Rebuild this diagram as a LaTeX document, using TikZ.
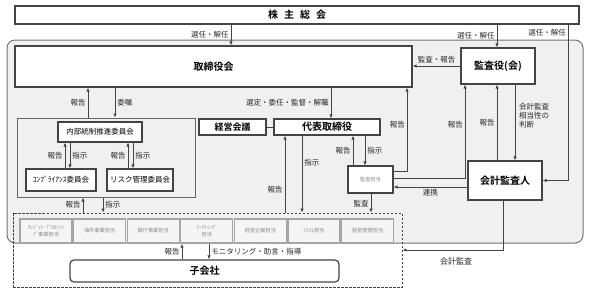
\documentclass[tikz,border=0pt]{standalone}
\usepackage{fontspec}
\setmainfont{Noto Sans CJK JP}[BoldFont={Noto Sans CJK JP Bold}]
\usetikzlibrary{arrows.meta, positioning, calc}
\definecolor{regionfill}{HTML}{F0F0F0}
\definecolor{edgegray}{HTML}{444444}
\definecolor{deptfill}{HTML}{F5F5F5}
\definecolor{depttext}{HTML}{8A8A8A}

\begin{document}
\begin{tikzpicture}[x=1pt, y=-1pt,
    >={Latex[length=4pt, width=3.4pt]},
    region/.style={draw=gray!90!black, line width=1pt, fill=regionfill, rounded corners=8pt, inner sep=0pt},
    bigbox/.style={draw=edgegray, line width=1.2pt, fill=white, inner sep=0pt, font=\fontsize{10}{12}\selectfont\bfseries},
    smallbox/.style={draw=edgegray, line width=1.1pt, fill=white, inner sep=0pt, font=\fontsize{7.5}{9}\selectfont},
    groupbox/.style={draw=gray!80!black, line width=1pt, inner sep=0pt},
    deptbox/.style={draw=gray!70, line width=1.3pt, fill=deptfill, inner sep=0pt, minimum width=52pt, minimum height=24pt, align=center, text=depttext, font=\fontsize{5.2}{6.5}\selectfont},
    dashbox/.style={draw=edgegray, line width=0.8pt, dash pattern=on 2.5pt off 1.5pt, inner sep=0pt},
    conn/.style={draw=edgegray, line width=0.9pt},
    lbl/.style={font=\fontsize{7.5}{9}\selectfont, inner sep=2pt, text=black!85},
]
\useasboundingbox (0,0) rectangle (589,293);

% Company region
\node[region, minimum width=576pt, minimum height=203pt] (company) at (295,141.5) {};

% Shareholders
\node[bigbox, minimum width=564pt, minimum height=18pt] (share) at (297,15) {株\hspace{6pt}主\hspace{6pt}総\hspace{6pt}会};

% Board and auditors
\node[bigbox, minimum width=397pt, minimum height=41pt] (board) at (213.5,66.5) {取締役会};
\node[bigbox, minimum width=74pt, minimum height=36pt] (auditors) at (498,66) {監査役(会)};
\node[bigbox, minimum width=74pt, minimum height=39pt] (accountant) at (505,180.5) {会計監査人};

% Executive side
\node[bigbox, minimum width=106pt, minimum height=16pt] (rep) at (327,127) {代表取締役};
\node[bigbox, minimum width=67pt, minimum height=16pt, font=\fontsize{9}{11}\selectfont\bfseries] (meeting) at (232.5,127) {経営会議};
\node[smallbox, minimum width=45pt, minimum height=27pt, text=depttext, font=\fontsize{5.2}{6.5}\selectfont] (auditoffice) at (370.5,179.5) {監査担当};

% Internal control group
\node[groupbox, minimum width=178pt, minimum height=79pt] (icgroup) at (106,157.5) {};
\node[smallbox, minimum width=84pt, minimum height=20pt] (iccommittee) at (100,132) {内部統制推進委員会};
\node[smallbox, minimum width=70pt, minimum height=22pt] (compliance) at (61,180) {ｺﾝﾌﾟﾗｲｱﾝｽ委員会};
\node[smallbox, minimum width=66pt, minimum height=22pt] (risk) at (140,180) {リスク管理委員会};

% Departments
\node[dashbox, minimum width=389pt, minimum height=74pt] (deptarea) at (207.5,250) {};
\foreach \dname [count=\i from 0] in {{ｸﾚｼﾞｯﾄ･ﾌﾟﾛｾｯｼﾝ\\ｸﾞ事業担当}, 海外事業担当, 銀行事業担当, {ﾏｰｹﾃｨﾝｸﾞ\\担当}, 経営企画担当, ｼｽﾃﾑ担当, 経営管理担当}
    \node[deptbox] (dept\i) at ({46+53.6*\i},231) {\dname};

% Subsidiaries
\node[bigbox, rounded corners=4pt, minimum width=269pt, minimum height=22pt] (subsidiary) at (204.5,271) {子会社};

% Shareholders -> board / auditors / accountant
\draw[conn, ->] (share.south -| 231,0) -- (board.north -| 231,0) node[lbl, midway, left] {選任・解任};
\draw[conn, ->] (share.south -| 497,0) -- (auditors.north -| 497,0) node[lbl, midway, left] {選任・解任};
\draw[conn, ->] (share.south -| 568,0) |- (accountant.east);
\node[lbl, left] at (568,33) {選任・解任};

% Auditors -> board
\draw[conn, ->] (auditors.west) -- (auditors.west -| board.east) node[lbl, midway, above] {監査・報告};

% Board <-> internal control
\draw[conn, ->] (icgroup.north -| 88,0) -- (board.south -| 88,0) node[lbl, midway, left] {報告};
\draw[conn, ->] (board.south -| 115,0) -- (icgroup.north -| 115,0) node[lbl, midway, right] {委嘱};
\draw[conn, ->] (compliance.north -| 65,0) -- (iccommittee.south -| 65,0) node[lbl, midway, left] {報告};
\draw[conn, ->] (iccommittee.south -| 70,0) -- (compliance.north -| 70,0) node[lbl, midway, right] {指示};
\draw[conn, ->] (risk.north -| 128,0) -- (iccommittee.south -| 128,0) node[lbl, midway, left] {報告};
\draw[conn, ->] (iccommittee.south -| 133,0) -- (risk.north -| 133,0) node[lbl, midway, right] {指示};
\draw[conn, ->] (deptarea.north -| 83,0) -- (icgroup.south -| 83,0) node[lbl, midway, left] {報告};
\draw[conn, ->] (icgroup.south -| 103,0) -- (deptarea.north -| 103,0) node[lbl, midway, right] {指示};

% Board -> representative director
\draw[conn, ->] (board.south -| 331,0) -- (rep.north -| 331,0) node[lbl, midway, left] {選定・委任・監督・解職};
\draw[conn] (meeting.east) -- (rep.west);

% Representative director <-> departments / audit office
\draw[conn, ->] (deptarea.north -| 285,0) -- (rep.south -| 285,0) node[lbl, pos=0.3, left] {報告};
\draw[conn, ->] (rep.south -| 302,0) -- (deptarea.north -| 302,0) node[lbl, pos=0.35, right] {指示};
\draw[conn, ->] (auditoffice.north -| 353,0) -- (rep.south -| 353,0) node[lbl, midway, left] {報告};
\draw[conn, ->] (rep.south -| 365,0) -- (auditoffice.north -| 365,0) node[lbl, midway, right] {指示};
\draw[conn, ->] (auditoffice.south -| 371,0) -- (deptarea.north -| 371,0) node[lbl, midway, left] {監査};

% Audit office reports
\draw[conn, ->] (auditoffice.east |- 0,171) -| (board.south -| 407,0);
\node[lbl, left] at (407,125) {報告};
\draw[conn, ->] (auditoffice.east |- 0,178) -| (auditors.south -| 465,0);
\node[lbl, left] at (465,125) {報告};

% Auditors <-> accountant
\draw[conn, ->] (accountant.north -| 497,0) -- (auditors.south -| 497,0) node[lbl, midway, left] {報告};
\draw[conn, ->] (auditors.south -| 515,0) -- (accountant.north -| 515,0);
\node[lbl, right, align=left, font=\fontsize{7.5}{9}\selectfont] at (517,116) {会計監査\\相当性の\\判断};
\draw[conn, ->] (accountant.west |- 0,187) -- (auditoffice.east |- 0,187) node[lbl, midway, below] {連携};
\draw[conn, ->] (accountant.south -| 503,0) |- (deptarea.east |- 0,250);
\node[lbl, font=\fontsize{8}{10}\selectfont] at (456,261) {会計監査};

% Departments <-> subsidiaries
\draw[conn, ->] (subsidiary.north -| 182,0) -- (dept0.south -| 182,0) node[lbl, midway, left] {報告};
\draw[conn, ->] (dept0.south -| 209,0) -- (subsidiary.north -| 209,0) node[lbl, midway, right] {モニタリング・助言・指導};
\end{tikzpicture}
\end{document}
